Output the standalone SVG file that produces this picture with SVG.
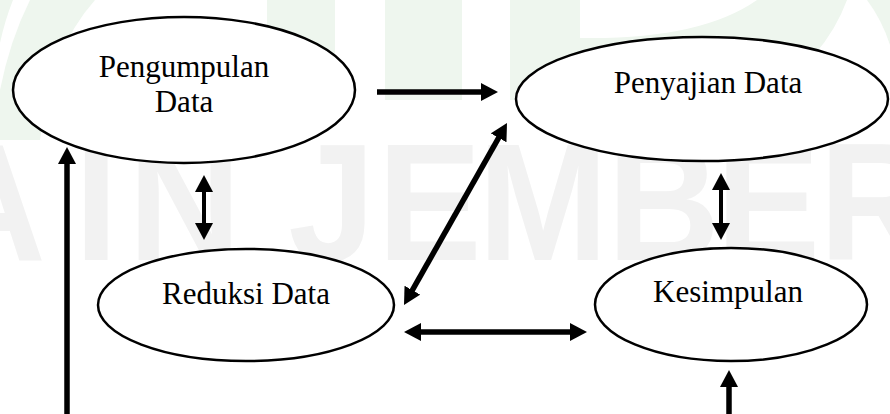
<svg xmlns="http://www.w3.org/2000/svg" width="890" height="414" viewBox="0 0 890 414">
<style>
  .node ellipse { fill: #ffffff; stroke: #000000; stroke-width: 2.5; }
  .label { font-family: "Liberation Serif", "Times New Roman", serif; font-size: 31px; fill: #000000; text-anchor: middle; }
  .conn { stroke: #000000; fill: none; }
  .thick { stroke-width: 5.5; }
  .thin { stroke-width: 4; }
  .wm-green { fill: #eef6ee; }
  .wm-text { font-family: "Liberation Sans", Arial, sans-serif; font-weight: bold; font-size: 168px; fill: #f2f2f2; }
</style>
<defs>
  <marker id="ah" markerUnits="userSpaceOnUse" markerWidth="17" markerHeight="18" viewBox="0 0 17 18" refX="2" refY="9" orient="auto-start-reverse">
    <path d="M0,0 L17,9 L0,18 Z" fill="#000000"/>
  </marker>
</defs>
<rect x="0" y="0" width="890" height="414" fill="#ffffff"/>
<g id="watermark">
  <path class="wm-green" d="M0,0 L13,0 Q5,20 0,43 Z"/>
  <path class="wm-green" d="M30,0 L95,0 Q50,50 40,140 L0,140 L0,90 Q10,40 30,0 Z"/>
  <rect class="wm-green" x="267" y="0" width="68" height="60"/>
  <rect class="wm-green" x="385" y="0" width="77" height="100"/>
  <rect class="wm-green" x="510" y="0" width="70" height="100"/>
  <path class="wm-green" d="M580,38 Q700,40 757,0 L847,0 Q825,60 760,100 L580,100 Z"/>
  <path class="wm-green" d="M867,0 L890,0 L890,45 Q882,20 867,0 Z"/>
  <text class="wm-text" transform="scale(0.93,1)" y="260" x="-72 80 138 200 310 406 514 653 770 881">AIN JEMBER</text>
</g>
<g id="connectors">
  <line class="conn thick" x1="377" y1="92" x2="483" y2="92" marker-end="url(#ah)"/>
  <line class="conn thin" x1="204" y1="190" x2="204" y2="225" marker-start="url(#ah)" marker-end="url(#ah)"/>
  <line class="conn thin" x1="721" y1="188" x2="721" y2="225" marker-start="url(#ah)" marker-end="url(#ah)"/>
  <line class="conn thick" x1="411.4" y1="291.9" x2="499.6" y2="136.1" marker-start="url(#ah)" marker-end="url(#ah)"/>
  <line class="conn thick" x1="419" y1="332" x2="572" y2="332" marker-start="url(#ah)" marker-end="url(#ah)"/>
  <line class="conn thick" x1="67" y1="416" x2="67" y2="162" marker-end="url(#ah)"/>
  <line class="conn thick" x1="729" y1="416" x2="729" y2="385" marker-end="url(#ah)"/>
</g>
<g id="pengumpulan" class="node">
  <ellipse cx="184" cy="90" rx="171" ry="73"/>
  <text class="label" x="184" y="77">Pengumpulan</text>
  <text class="label" x="184" y="112">Data</text>
</g>
<g id="penyajian" class="node">
  <ellipse cx="702" cy="99" rx="186" ry="62"/>
  <text class="label" x="708" y="93">Penyajian Data</text>
</g>
<g id="reduksi" class="node">
  <ellipse cx="246" cy="305" rx="148" ry="56"/>
  <text class="label" x="246" y="304">Reduksi Data</text>
</g>
<g id="kesimpulan" class="node">
  <ellipse cx="731" cy="304.5" rx="136" ry="56.5"/>
  <text class="label" x="728" y="302">Kesimpulan</text>
</g>
</svg>
